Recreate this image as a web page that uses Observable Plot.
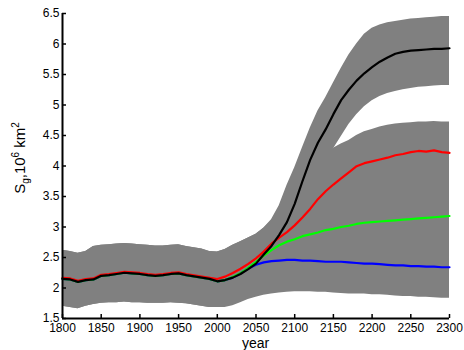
<!DOCTYPE html>
<html><head><meta charset="utf-8">
<script src="https://cdn.jsdelivr.net/npm/d3@7"></script>
<script src="https://cdn.jsdelivr.net/npm/@observablehq/plot@0.6"></script>
<style>
body{margin:0;background:#fff}
svg{font-family:"Liberation Sans",Arial,Helvetica,sans-serif}
</style>
</head><body><div id="chart"></div>
<script>
// shared historical curve (1800-1990)
const histYears = [1800,1810,1820,1830,1840,1850,1860,1870,1880,1890,1900,1910,1920,1930,1940,1950,1960,1970,1980,1990];
const histLine  = [2.15,2.14,2.10,2.13,2.14,2.20,2.21,2.23,2.25,2.24,2.23,2.21,2.20,2.21,2.23,2.24,2.21,2.19,2.17,2.15];

// scenario curves (2000-2300)
const futYears = [2000,2010,2020,2030,2040,2050,2060,2070,2080,2090,2100,2110,2120,2130,2140,2150,2160,2170,2180,2190,2200,2210,2220,2230,2240,2250,2260,2270,2280,2290,2300];
const blackSeries = [2.11,2.13,2.17,2.23,2.31,2.40,2.55,2.69,2.87,3.08,3.38,3.75,4.10,4.38,4.60,4.85,5.08,5.25,5.40,5.52,5.62,5.71,5.78,5.84,5.87,5.89,5.90,5.91,5.92,5.92,5.93];
const redSeries   = [2.13,2.17,2.23,2.30,2.38,2.47,2.58,2.71,2.81,2.90,3.01,3.14,3.28,3.44,3.57,3.68,3.78,3.88,3.98,4.03,4.06,4.09,4.12,4.16,4.18,4.21,4.23,4.22,4.24,4.21,4.20];
const greenSeries = [2.11,2.13,2.18,2.24,2.33,2.43,2.53,2.62,2.70,2.76,2.80,2.85,2.88,2.91,2.95,2.97,3.00,3.02,3.05,3.07,3.08,3.09,3.10,3.11,3.12,3.13,3.14,3.15,3.16,3.17,3.18];
const blueSeries  = [2.11,2.13,2.17,2.24,2.32,2.38,2.42,2.44,2.45,2.46,2.46,2.45,2.45,2.44,2.43,2.43,2.43,2.42,2.41,2.40,2.40,2.39,2.38,2.37,2.37,2.36,2.36,2.35,2.35,2.34,2.34];

// uncertainty band edges (1800-2300)
const bandYears = [1800,1810,1820,1830,1840,1850,1860,1870,1880,1890,1900,1910,1920,1930,1940,1950,1960,1970,1980,1990,2000,2010,2020,2030,2040,2050,2060,2070,2080,2090,2100,2110,2120,2130,2140,2150,2160,2170,2180,2190,2200,2210,2220,2230,2240,2250,2260,2270,2280,2290,2300];
const bandTop  = [2.62,2.60,2.57,2.60,2.68,2.70,2.71,2.72,2.73,2.72,2.71,2.70,2.69,2.69,2.70,2.71,2.68,2.66,2.64,2.60,2.59,2.63,2.70,2.76,2.82,2.88,2.98,3.12,3.35,3.68,3.97,4.30,4.62,4.90,5.12,5.36,5.60,5.82,6.00,6.16,6.26,6.31,6.35,6.37,6.39,6.41,6.42,6.43,6.44,6.45,6.45];
const blackLow = [1.70,1.68,1.66,1.70,1.73,1.75,1.76,1.76,1.77,1.76,1.76,1.75,1.75,1.75,1.76,1.75,1.74,1.72,1.70,1.68,1.68,1.70,1.74,1.78,1.84,1.90,2.00,2.10,2.25,2.45,2.75,3.10,3.45,3.80,4.05,4.28,4.48,4.68,4.84,4.97,5.07,5.14,5.19,5.22,5.25,5.27,5.29,5.30,5.31,5.32,5.32];
const redHigh  = [2.62,2.60,2.57,2.60,2.68,2.70,2.71,2.72,2.73,2.72,2.71,2.70,2.69,2.69,2.70,2.71,2.68,2.66,2.64,2.60,2.59,2.63,2.70,2.76,2.82,2.88,2.98,3.10,3.25,3.40,3.55,3.70,3.84,3.98,4.15,4.29,4.36,4.42,4.50,4.56,4.60,4.64,4.67,4.69,4.70,4.71,4.72,4.72,4.73,4.72,4.72];
const bandLow  = [1.70,1.68,1.66,1.70,1.73,1.75,1.76,1.76,1.77,1.76,1.76,1.75,1.75,1.75,1.76,1.75,1.74,1.72,1.70,1.68,1.68,1.68,1.71,1.76,1.81,1.85,1.88,1.90,1.92,1.93,1.94,1.94,1.94,1.93,1.93,1.92,1.91,1.90,1.90,1.90,1.89,1.89,1.88,1.87,1.86,1.86,1.85,1.85,1.84,1.83,1.83];

const xTicks = [1800,1850,1900,1950,2000,2050,2100,2150,2200,2250,2300];
const yTicks = [1.5,2,2.5,3,3.5,4,4.5,5,5.5,6,6.5];

const bands = bandYears.map((year,i)=>({year, top:bandTop[i], blo:blackLow[i], rhi:redHigh[i], low:bandLow[i]}));
const series = (vals)=>histYears.map((year,i)=>({year, v:histLine[i]})).concat(futYears.map((year,i)=>({year, v:vals[i]})));

const plot = Plot.plot({
  width: 464, height: 350,
  marginLeft: 62, marginRight: 15, marginTop: 13, marginBottom: 32,
  x: {domain: [1800, 2300]},
  y: {domain: [1.5, 6.5]},
  style: {fontSize: "12px", fontFamily: "'Liberation Sans', Arial, sans-serif", color: "black", background: "white"},
  marks: [
    Plot.areaY(bands, {x: "year", y1: "blo", y2: "top", fill: "#808080"}),
    Plot.areaY(bands, {x: "year", y1: "low", y2: "rhi", fill: "#808080"}),
    Plot.line(series(blueSeries),  {x: "year", y: "v", stroke: "#0000ff", strokeWidth: 2.2}),
    Plot.line(series(greenSeries), {x: "year", y: "v", stroke: "#00ff00", strokeWidth: 2.2}),
    Plot.line(series(redSeries),   {x: "year", y: "v", stroke: "#ff0000", strokeWidth: 2.2, dy: -1}),
    Plot.line(series(blackSeries), {x: "year", y: "v", stroke: "#000000", strokeWidth: 2.2}),
    Plot.axisX({ticks: xTicks, tickSize: 4, text: null, dy: -4, strokeWidth: 1.5, label: null}),
    Plot.axisY({ticks: yTicks, tickSize: 4, text: null, dx: 4, strokeWidth: 1.5, label: null}),
    Plot.axisX({ticks: xTicks, tickSize: 0, tickPadding: 5, tickFormat: d => String(d), label: null, fill: "black"}),
    Plot.axisY({ticks: yTicks, tickSize: 0, tickPadding: 3, tickFormat: d => String(d), label: null, fill: "black"}),
    Plot.ruleX([1800], {stroke: "black", strokeWidth: 2}),
    Plot.ruleY([1.5], {stroke: "black", strokeWidth: 2})
  ]
});

const svg = d3.select(plot);
svg.append("text")
  .attr("x", 255.5).attr("y", 348)
  .attr("text-anchor", "middle")
  .attr("fill", "black")
  .style("font-size", "14px")
  .text("year");

const yl = svg.append("text")
  .attr("transform", "translate(25,158) rotate(-90)")
  .attr("text-anchor", "middle")
  .attr("fill", "black")
  .style("font-size", "15px");
yl.append("tspan").text("S");
yl.append("tspan").attr("dy", 4).style("font-size", "10px").text("g");
yl.append("tspan").attr("dy", -4).text(",10");
yl.append("tspan").attr("dy", -6).style("font-size", "10px").text("6");
yl.append("tspan").attr("dy", 6).text(" km");
yl.append("tspan").attr("dy", -6).style("font-size", "10px").text("2");

document.getElementById("chart").appendChild(plot);
</script>
</body></html>
